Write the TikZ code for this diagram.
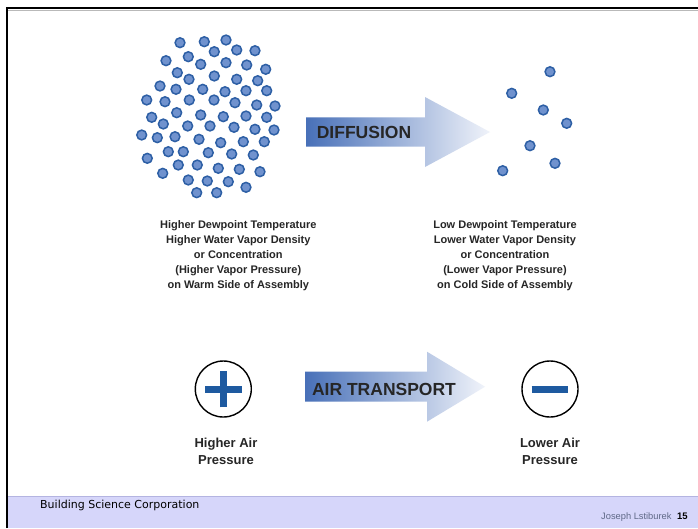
\documentclass[tikz,border=0pt]{standalone}
\usepackage{fontspec}
\setmainfont{Liberation Sans}
\newfontfamily\verdanafont{DejaVu Sans}
\definecolor{dotfill}{RGB}{112,146,206}
\definecolor{dotline}{RGB}{45,95,165}
\definecolor{arrowL}{RGB}{72,112,184}
\definecolor{arrowM}{RGB}{178,196,228}
\definecolor{arrowR}{RGB}{240,243,250}
\definecolor{txt}{RGB}{38,38,38}
\definecolor{signblue}{RGB}{30,90,160}
\definecolor{footband}{RGB}{214,214,250}
\definecolor{footline}{RGB}{180,180,225}
\definecolor{authgray}{RGB}{95,105,135}
\tikzset{
  dot/.style={fill=dotfill,draw=dotline,line width=1.5pt},
  arrowshade/.style={left color=arrowL,middle color=arrowM,right color=arrowR},
  arrowlbl/.style={font=\bfseries\fontsize{17.5}{20}\selectfont,text=txt,inner sep=0pt},
  blocktext/.style={font=\bfseries\fontsize{11}{15}\selectfont,text=txt,align=center,inner sep=0pt},
  airtext/.style={font=\bfseries\fontsize{13}{16.7}\selectfont,text=txt,align=center,inner sep=0pt},
  ring/.style={circle,draw=black,line width=1.4pt,minimum size=56pt,inner sep=0pt},
  signbar/.style={draw=signblue,line width=7pt},
}
\begin{document}
\begin{tikzpicture}[x=1pt,y=-1pt]
\useasboundingbox (0,0) rectangle (698,528);
\fill[white] (0,0) rectangle (698,528);
% footer band
\fill[footband] (8,496) rectangle (698,528);
\draw[footline,line width=0.8pt] (8,496) -- (698,496);
% frame
\draw[gray!55,line width=0.9pt] (8,10.2) -- (698,10.2);
\draw[black,line width=2.4pt] (7,528) -- (7,8) -- (698,8);
% dense molecule cluster
\foreach \x/\y in {180/42.7,204.3/41.7,226/40,214.3/51.7,236.7/50,255/50.7,166/60.7,188.3/56.7,200.7/64.3,226/62.7,246.7/65,265.7/69.3,177.3/72.7,189/79.3,214.3/76,236.7/79.3,257.7/80.7,160/86,176/89.3,202.7/89.3,225/91.7,246/90.7,266.7/90.7,146.7/100,165/101.7,189.3/100,214/100,235/102.7,256.7/105,275/106,176.7/112.7,200.7/115,223.3/116.7,246/116,266.7/117.3,151.7/117.3,163.3/124,187.7/126,210/126,234/127.3,255/129.3,274/130,141.7/135,157.3/137.7,175/136.7,199/139.3,220.7/142.7,243.3/141.7,264.3/141.7,168.3/151.7,183.3/151.7,208.3/152.7,231.7/154,253.3/155,147.3/158.3,178.3/165,197.3/165,218.3/168.3,239.3/169.3,260/171.7,162.7/173.3,188.3/180,207.3/181,228.3/181.7,246/187.3,196.7/192.7,216.7/192.7}
  \filldraw[dot] (\x,\y) circle[radius=4.9pt];
% sparse molecules
\foreach \x/\y in {550/71.7,511.7/93.3,543.3/110,566.7/123.3,530/145.7,555/163.3,502.7/170.7}
  \filldraw[dot] (\x,\y) circle[radius=4.9pt];
% diffusion arrow
\shade[arrowshade] (306,117.3) -- (425,117.3) -- (425,97) -- (490,132) -- (425,167) -- (425,146.7) -- (306,146.7) -- cycle;
\node[arrowlbl] (diff) at (364,132) {DIFFUSION};
% text blocks
\node[blocktext] (warm) at (238.3,255.5) {Higher Dewpoint Temperature\\Higher Water Vapor Density\\or Concentration\\(Higher Vapor Pressure)\\on Warm Side of Assembly};
\node[blocktext] (cold) at (505,255.5) {Low Dewpoint Temperature\\Lower Water Vapor Density\\or Concentration\\(Lower Vapor Pressure)\\on Cold Side of Assembly};
% air transport arrow
\shade[arrowshade] (305,371.7) -- (427,371.7) -- (427,351.7) -- (485,386.7) -- (427,421.7) -- (427,401.7) -- (305,401.7) -- cycle;
\node[arrowlbl] (air) at (384,389) {AIR TRANSPORT};
% plus and minus
\node[ring] (plus) at (223.3,389) {};
\draw[signbar] ([xshift=-18.3pt]plus.center) -- ([xshift=18.3pt]plus.center);
\draw[signbar] ([yshift=-18.3pt]plus.center) -- ([yshift=18.3pt]plus.center);
\node[ring] (minus) at (550,389) {};
\draw[signbar] ([xshift=-18.3pt]minus.center) -- ([xshift=18.3pt]minus.center);
\node[airtext] (hiair) at (226,451.5) {Higher Air\\Pressure};
\node[airtext] (loair) at (550,451.5) {Lower Air\\Pressure};
% footer texts
\node[anchor=base west,inner sep=0pt,font=\verdanafont\fontsize{11}{13}\selectfont,text=black] (bsc) at (40,508.5) {Building Science Corporation};
\node[anchor=base west,inner sep=0pt,font=\fontsize{9.3}{11}\selectfont,text=authgray] (auth) at (601,519) {Joseph Lstiburek};
\node[anchor=base west,inner sep=0pt,font=\bfseries\fontsize{9.5}{11}\selectfont,text=black] (pg) at (677,519) {15};
\end{tikzpicture}
\end{document}
